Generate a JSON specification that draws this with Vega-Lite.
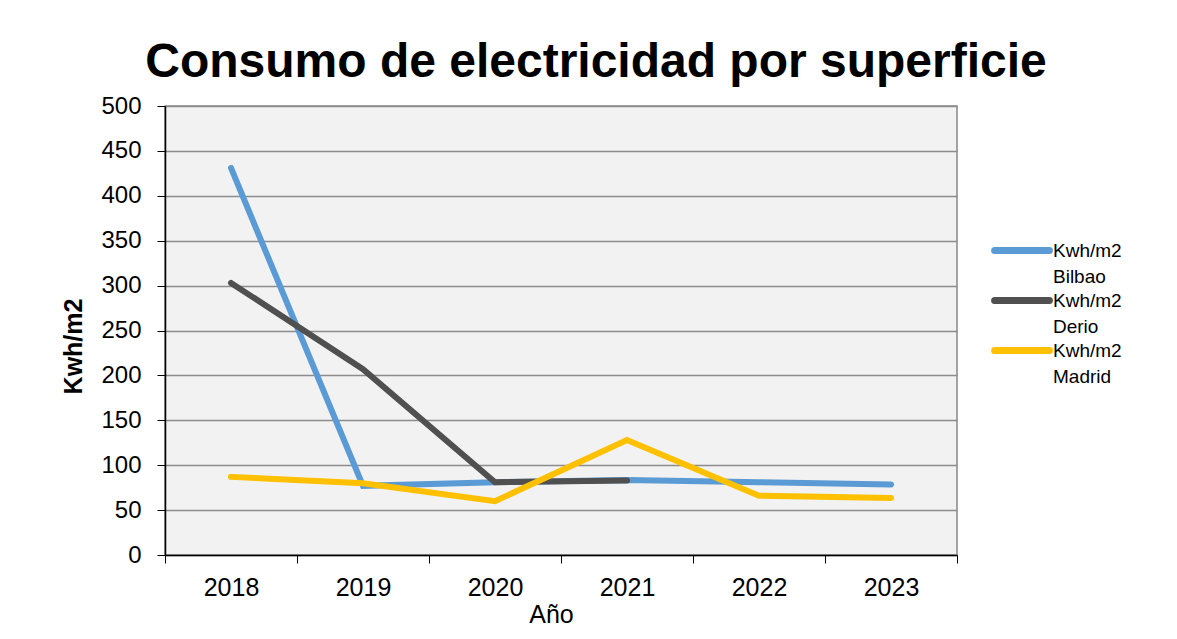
{
  "$schema": "https://vega.github.io/schema/vega-lite/v6.json",
  "width": 792,
  "height": 449,
  "autosize": {"type": "none"},
  "padding": {"left": 165, "top": 106, "right": 220, "bottom": 84},
  "background": "white",
  "title": {
    "text": "Consumo de electricidad por superficie",
    "font": "Liberation Sans",
    "fontSize": 48,
    "fontWeight": "bold",
    "color": "black",
    "anchor": "middle",
    "dx": 35,
    "offset": 7
  },
  "config": {
    "view": {"fill": "#f2f2f2", "stroke": "#888888", "strokeWidth": 1.5},
    "axis": {
      "labelFont": "Liberation Sans",
      "titleFont": "Liberation Sans",
      "labelFontSize": 25,
      "titleFontSize": 25,
      "labelColor": "black",
      "titleColor": "black",
      "domainColor": "black",
      "tickColor": "black",
      "domainWidth": 1.5,
      "tickWidth": 1
    },
    "legend": {
      "labelFont": "Liberation Sans",
      "labelFontSize": 19,
      "labelColor": "black"
    }
  },
  "data": {
    "values": [
      {"year": "2018", "serie": "Kwh/m2 Bilbao", "value": 431},
      {"year": "2019", "serie": "Kwh/m2 Bilbao", "value": 77},
      {"year": "2020", "serie": "Kwh/m2 Bilbao", "value": 81},
      {"year": "2021", "serie": "Kwh/m2 Bilbao", "value": 83.5},
      {"year": "2022", "serie": "Kwh/m2 Bilbao", "value": 81},
      {"year": "2023", "serie": "Kwh/m2 Bilbao", "value": 78.5},
      {"year": "2018", "serie": "Kwh/m2 Derio", "value": 303},
      {"year": "2019", "serie": "Kwh/m2 Derio", "value": 207},
      {"year": "2020", "serie": "Kwh/m2 Derio", "value": 81},
      {"year": "2021", "serie": "Kwh/m2 Derio", "value": 83},
      {"year": "2018", "serie": "Kwh/m2 Madrid", "value": 87},
      {"year": "2019", "serie": "Kwh/m2 Madrid", "value": 80},
      {"year": "2020", "serie": "Kwh/m2 Madrid", "value": 60},
      {"year": "2021", "serie": "Kwh/m2 Madrid", "value": 128},
      {"year": "2022", "serie": "Kwh/m2 Madrid", "value": 66},
      {"year": "2023", "serie": "Kwh/m2 Madrid", "value": 63.5}
    ]
  },
  "mark": {"type": "line", "strokeWidth": 6, "strokeCap": "round", "strokeJoin": "miter"},
  "encoding": {
    "x": {
      "field": "year",
      "type": "ordinal",
      "title": "Año",
      "scale": {"type": "band", "paddingInner": 0, "paddingOuter": 0},
      "axis": {
        "labelAngle": 0,
        "tickBand": "extent",
        "tickSize": 8,
        "labelPadding": 12,
        "titleFontWeight": "normal",
        "titleX": 386,
        "titleY": 67,
        "titleBaseline": "alphabetic",
        "grid": false
      }
    },
    "y": {
      "field": "value",
      "type": "quantitative",
      "title": "Kwh/m2",
      "scale": {"domain": [0, 500], "nice": false},
      "axis": {
        "values": [0, 50, 100, 150, 200, 250, 300, 350, 400, 450, 500],
        "tickSize": 8,
        "labelPadding": 16,
        "labelFontSize": 24,
        "titleFontWeight": "bold",
        "titleX": -92,
        "titleY": 240,
        "titleBaseline": "middle",
        "titleAlign": "center",
        "grid": true,
        "gridColor": "#8c8c8c",
        "gridWidth": 1.5
      }
    },
    "color": {
      "field": "serie",
      "type": "nominal",
      "title": null,
      "scale": {
        "domain": ["Kwh/m2 Bilbao", "Kwh/m2 Derio", "Kwh/m2 Madrid"],
        "range": ["#5b9bd5", "#505050", "#ffc000"]
      },
      "legend": {
        "orient": "none",
        "legendX": 826,
        "legendY": 131,
        "symbolType": "stroke",
        "symbolSize": 3000,
        "symbolStrokeWidth": 7,
        "labelExpr": "split(datum.label, ' ')",
        "labelBaseline": "alphabetic",
        "labelOffset": 0,
        "rowPadding": 0,
        "clipHeight": 27,
        "encode": {
          "labels": {"update": {"lineHeight": {"value": 26}, "dy": {"value": 6}}},
          "symbols": {"update": {"strokeCap": {"value": "round"}}}
        }
      }
    }
  }
}
